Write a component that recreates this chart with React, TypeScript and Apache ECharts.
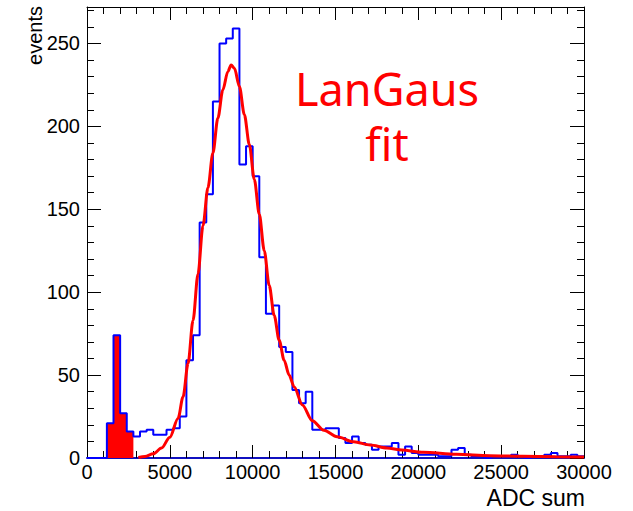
import { useEffect, useRef } from "react";
import * as echarts from "echarts";

// Histogram binning of the ADC sum spectrum
const BIN_WIDTH = 400;
const X_MIN = 0;
const X_MAX = 30000;
const Y_MAX = 272;

// Entries per 400-count bin, from 0 to 30000
const counts = [
  0, 0, 0, 21, 74, 27, 16, 13, 16, 17,
  14, 14, 17, 18, 25, 59, 74, 142, 159, 215,
  250, 253, 259, 177, 188, 170, 121, 87, 92, 67,
  64, 41, 33, 40, 17, 17, 18, 18, 12, 9,
  13, 9, 8, 5, 7, 7, 9, 2, 7, 3,
  2, 2, 2, 1, 1, 5, 6, 2, 1, 1,
  0, 1, 1, 1, 2, 1, 0, 1, 1, 2,
  3, 1, 1, 2, 1,
];

// Pedestal bins drawn with solid red fill
const FILL_FIRST_BIN = 3;
const FILL_LAST_BIN = 6;

// Landau (x) Gauss fit curve samples
const fitX = [
  3100, 3500, 4000, 4500, 5000, 5500, 5800, 6100, 6400, 6700,
  7000, 7300, 7600, 7900, 8200, 8500, 8700, 8900, 9200, 9500,
  9800, 10100, 10400, 10700, 11000, 11300, 11600, 11900, 12200, 12500,
  13000, 13600, 14300, 15100, 16100, 17100, 18100, 19000, 20300, 22300,
  24300, 26300, 28300, 30000,
];
const fitY = [
  0.3, 0.9, 2.5, 6, 12.5, 24, 37, 57, 83, 111,
  140, 163, 184, 205, 222, 233, 237, 235, 224, 207,
  189, 168, 147, 125, 104, 86, 71, 59, 50, 43,
  32, 22.5, 16.7, 12.8, 9.8, 7.8, 6, 4.8, 3.4, 2.2,
  1.4, 1.0, 0.8, 0.6,
];

const X_MAJOR = 5000;
const Y_MAJOR = 50;
const Y_MINOR = 10;

const LABEL_FONT = "Liberation Sans";

export default function App() {
  const ref = useRef<HTMLDivElement>(null);

  useEffect(() => {
    const chart = echarts.init(ref.current!, null, { renderer: "svg" });

    const edges = counts.map((_, i) => X_MIN + i * BIN_WIDTH);
    const hist: number[][] = counts.map((c, i) => [edges[i], c]);
    hist.push([X_MAX, counts[counts.length - 1]]);

    // Outline of the filled pedestal bins: both edges of every bin at its height
    const fill: number[][] = [[edges[FILL_FIRST_BIN], 0]];
    for (let i = FILL_FIRST_BIN; i <= FILL_LAST_BIN; i++) {
      fill.push([edges[i], counts[i]]);
      fill.push([edges[i] + BIN_WIDTH, counts[i]]);
    }
    fill.push([edges[FILL_LAST_BIN] + BIN_WIDTH, 0]);

    const fit = fitX.map((x, i) => [x, fitY[i]]);

    const black = "#000000";
    const xBase = {
      type: "value" as const,
      min: X_MIN,
      max: X_MAX,
      interval: X_MAJOR,
      splitLine: { show: false },
      minorTick: { show: true, splitNumber: 5, length: 7, lineStyle: { color: black, width: 1 } },
      axisTick: { show: true, inside: true, length: 13, lineStyle: { color: black, width: 1 } },
    };
    const yMajor = {
      type: "value" as const,
      min: 0,
      max: Y_MAX,
      interval: Y_MAJOR,
      splitLine: { show: false },
      axisTick: { show: true, inside: true, length: 14, lineStyle: { color: black, width: 1 } },
    };
    const yMinor = {
      type: "value" as const,
      min: 0,
      max: Y_MAX,
      interval: Y_MINOR,
      splitLine: { show: false },
      axisLine: { show: false, onZero: false },
      axisLabel: { show: false },
      axisTick: { show: true, inside: true, length: 7, lineStyle: { color: black, width: 1 } },
    };

    chart.setOption({
      animation: false,
      grid: { left: 87, right: 49, top: 7, bottom: 53, containLabel: false },
      xAxis: [
        {
          ...xBase,
          position: "bottom",
          axisLine: { show: true, onZero: false, lineStyle: { color: "#1010c0", width: 2 } },
          axisLabel: {
            show: true,
            margin: 4,
            color: black,
            fontFamily: LABEL_FONT,
            fontSize: 20,
            formatter: (v: number) => String(v),
          },
        },
        {
          ...xBase,
          position: "top",
          axisLine: { show: true, onZero: false, lineStyle: { color: black, width: 1 } },
          axisLabel: { show: false },
        },
      ],
      yAxis: [
        {
          ...yMajor,
          position: "left",
          axisLine: { show: true, onZero: false, lineStyle: { color: black, width: 1 } },
          axisLabel: {
            show: true,
            margin: 7,
            color: black,
            fontFamily: LABEL_FONT,
            fontSize: 20,
            formatter: (v: number) => (v % Y_MAJOR === 0 ? String(v) : ""),
          },
        },
        { ...yMinor, position: "left" },
        {
          ...yMajor,
          position: "right",
          axisLine: { show: true, onZero: false, lineStyle: { color: black, width: 1 } },
          axisLabel: { show: false },
        },
        { ...yMinor, position: "right" },
      ],
      series: [
        {
          type: "line",
          name: "pedestal",
          data: fill,
          symbol: "none",
          lineStyle: { width: 0, color: "#ff0000" },
          areaStyle: { color: "#ff0000", opacity: 1 },
          z: 1,
        },
        {
          type: "line",
          name: "ADC sum",
          data: hist,
          step: "end",
          symbol: "none",
          lineStyle: { color: "#0000ff", width: 2 },
          z: 2,
        },
        {
          type: "line",
          name: "LanGaus",
          data: fit,
          smooth: 0.3,
          smoothMonotone: "x",
          symbol: "none",
          lineStyle: { color: "#ff0000", width: 3 },
          z: 3,
        },
      ],
      graphic: [
        {
          type: "text",
          x: 387,
          y: 116,
          style: {
            text: "LanGaus\nfit",
            fill: "#ff0000",
            font: '45px "Noto Sans"',
            lineHeight: 55,
            align: "center",
            verticalAlign: "middle",
          },
        },
        {
          type: "text",
          x: 35,
          y: 6,
          rotation: Math.PI / 2,
          style: {
            text: "events",
            fill: black,
            font: `20px "${LABEL_FONT}"`,
            align: "right",
            verticalAlign: "middle",
          },
        },
        {
          type: "text",
          x: 585,
          y: 498,
          style: {
            text: "ADC sum",
            fill: black,
            font: `23px "${LABEL_FONT}"`,
            align: "right",
            verticalAlign: "middle",
          },
        },
      ],
    });

    return () => chart.dispose();
  }, []);

  return (
    <div
      ref={ref}
      style={{ position: "absolute", left: 0, top: 0, width: 633, height: 511 }}
    />
  );
}
